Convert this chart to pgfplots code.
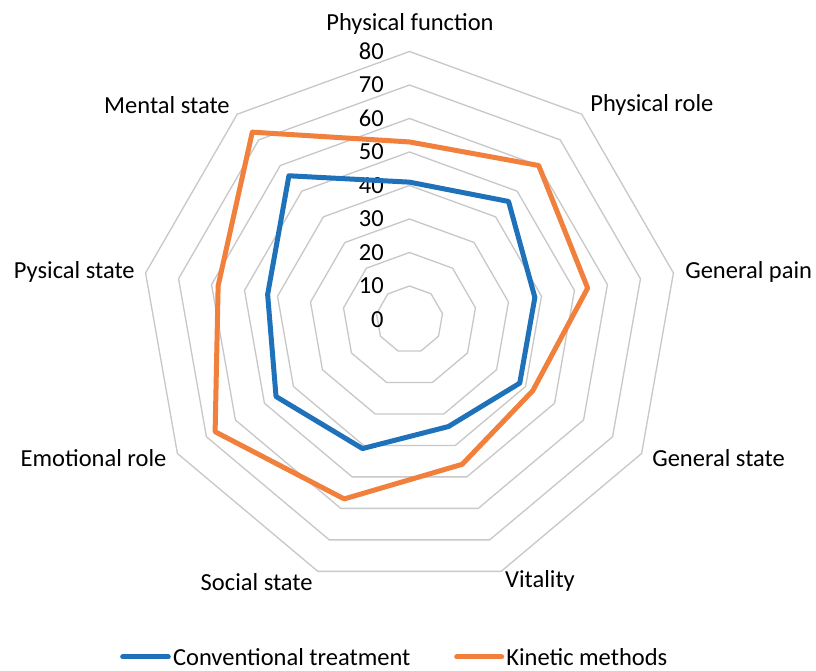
\documentclass[border=0pt]{standalone}
\usepackage{pgfplots}
\pgfplotsset{compat=1.18}
\usepgfplotslibrary{polar}
\usepackage{fontspec}
\setmainfont{Carlito}
\definecolor{cblue}{RGB}{31,114,186}
\definecolor{corange}{RGB}{240,128,60}
\definecolor{gridgray}{RGB}{200,200,200}
\newcommand{\px}{0.6pt}
\begin{document}
\begin{tikzpicture}[font=\fontsize{14.7}{17.6}\selectfont]
\begin{polaraxis}[hide axis, scale only axis, width=321.6pt, height=321.6pt,
  ymin=0, ymax=80, xmin=0, xmax=360, clip=false]
\pgfplotsinvokeforeach{10,20,30,40,50,60,70,80}{
  \addplot[gridgray, line width=0.8pt, line join=round, forget plot] coordinates
    {(90,#1) (50,#1) (10,#1) (330,#1) (290,#1) (250,#1) (210,#1) (170,#1) (130,#1) (90,#1)};
}
\pgfplotsinvokeforeach{0,10,20,30,40,50,60,70,80}{
  \node[anchor=east, inner sep=0pt, xshift=-15.3pt] at (axis cs:90,#1) {#1};
}
% Conventional treatment
\addplot[cblue, line width=3pt, line join=round, line cap=round] coordinates
  {(90,41) (50,46) (10,38) (330,38) (290,34) (250,41) (210,46) (170,43) (130,56) (90,41)};
% Kinetic methods
\addplot[corange, line width=3pt, line join=round, line cap=round] coordinates
  {(90,53) (50,60) (10,54) (330,42.5) (290,46) (250,57) (210,67) (170,58) (130,73) (90,53)};
\coordinate (O) at (axis cs:0,0);
\end{polaraxis}
\node[anchor=center, inner sep=0pt] at ([shift={(0.5*\px,295.5*\px)}]O) {Physical function};
\node[anchor=west, inner sep=0pt] at ([shift={(180.5*\px,214.5*\px)}]O) {Physical role};
\node[anchor=west, inner sep=0pt] at ([shift={(275.5*\px,47.5*\px)}]O) {General pain};
\node[anchor=west, inner sep=0pt] at ([shift={(242.5*\px,-138.5*\px)}]O) {General state};
\node[anchor=center, inner sep=0pt] at ([shift={(130.5*\px,-261.5*\px)}]O) {Vitality};
\node[anchor=center, inner sep=0pt] at ([shift={(-152.8*\px,-262.2*\px)}]O) {Social state};
\node[anchor=east, inner sep=0pt] at ([shift={(-242.8*\px,-138.5*\px)}]O) {Emotional role};
\node[anchor=east, inner sep=0pt] at ([shift={(-274.5*\px,47.5*\px)}]O) {Pysical state};
\node[anchor=east, inner sep=0pt] at ([shift={(-179.5*\px,214.5*\px)}]O) {Mental state};
% legend
\draw[cblue, line width=3pt, line cap=round] ([shift={(-286.8*\px,-337.5*\px)}]O) -- ([shift={(-241.2*\px,-337.5*\px)}]O);
\node[anchor=west, inner sep=0pt] at ([shift={(-236.8*\px,-337.5*\px)}]O) {Conventional treatment};
\draw[corange, line width=3pt, line cap=round] ([shift={(47.2*\px,-337.5*\px)}]O) -- ([shift={(92.2*\px,-337.5*\px)}]O);
\node[anchor=west, inner sep=0pt] at ([shift={(96.5*\px,-337.5*\px)}]O) {Kinetic methods};
\pgfresetboundingbox
\path[use as bounding box] ([shift={(-409.5*\px,-351.5*\px)}]O) rectangle ([shift={(406.5*\px,319.5*\px)}]O);
\end{tikzpicture}
\end{document}
